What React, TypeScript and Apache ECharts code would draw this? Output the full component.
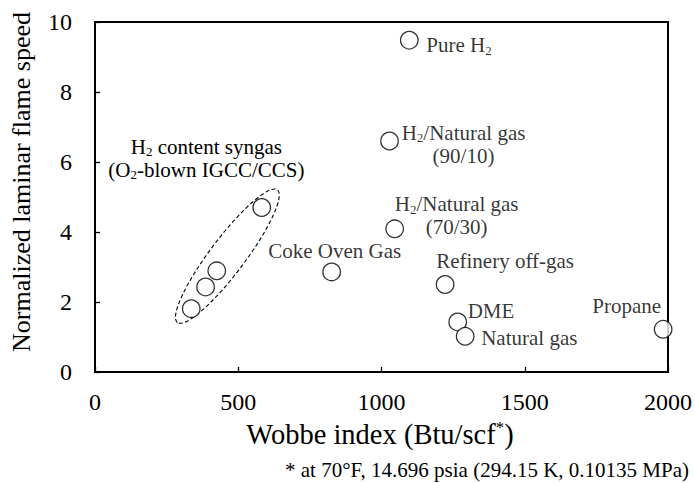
import React, { useEffect, useRef } from "react";
import * as echarts from "echarts";

// Fuel gases: Wobbe index (Btu/scf) vs. normalized laminar flame speed
const gasNames = [
  "Pure H2",
  "H2/Natural gas (90/10)",
  "H2/Natural gas (70/30)",
  "Coke Oven Gas",
  "Refinery off-gas",
  "DME",
  "Natural gas",
  "Propane",
];
const gasWobbe = [1097, 1028, 1046, 826, 1222, 1266, 1292, 1983];
const gasFlameSpeed = [9.48, 6.6, 4.09, 2.86, 2.5, 1.43, 1.02, 1.22];

// H2-content syngas cases (O2-blown IGCC/CCS)
const syngasWobbe = [336, 386, 425, 582];
const syngasFlameSpeed = [1.81, 2.43, 2.89, 4.7];
// centre of the dashed envelope drawn round the syngas cases
const syngasEnvelopeCentre = [462, 3.31];

const xTicks = { min: 0, max: 2000, interval: 500 };
const yTicks = { min: 0, max: 10, interval: 2 };

// rich-text labels (t = normal, s = subscript)
const gasLabels = [
  "{t|Pure H}{s|2}",
  "{t|H}{s|2}{t|/Natural gas}\n{t|(90/10)}",
  "{t|H}{s|2}{t|/Natural gas}\n{t|(70/30)}",
  "{t|Coke Oven Gas}",
  "{t|Refinery off-gas}",
  "{t|DME}",
  "{t|Natural gas}",
  "{t|Propane}",
];
const syngasLabel = "{t|H}{s|2}{t| content syngas}\n{t|(O}{s|2}{t|-blown IGCC/CCS)}";

// label placement relative to each marker (pixels)
const labelPlacement = [
  { dx: 17, dy: 5, align: "left" },
  { dx: 74, dy: 3, align: "center" },
  { dx: 62, dy: -13, align: "center" },
  { dx: 3, dy: -21, align: "center" },
  { dx: 60, dy: -24, align: "center" },
  { dx: 10, dy: -11, align: "left" },
  { dx: 16, dy: 2, align: "left" },
  { dx: -2, dy: -23, align: "right" },
];

const FONT = "Liberation Serif";

const richStyles = {
  t: { fontSize: 21, fontFamily: FONT, color: "#000", lineHeight: 23 },
  s: {
    fontSize: 13,
    fontFamily: FONT,
    color: "#000",
    lineHeight: 13,
    verticalAlign: "bottom",
  },
};

export default function App() {
  const ref = useRef<HTMLDivElement>(null);

  useEffect(() => {
    if (!ref.current) return;
    const chart = echarts.init(ref.current, undefined, { renderer: "svg" });

    const gasData = gasNames.map((name, i) => {
      const p = labelPlacement[i];
      return {
        name,
        value: [gasWobbe[i], gasFlameSpeed[i]],
        label: {
          show: true,
          position: "inside",
          formatter: gasLabels[i],
          offset: [p.dx, p.dy],
          align: p.align,
          verticalAlign: "middle",
          rich: richStyles,
        },
      };
    });

    const syngasData = syngasWobbe.map((w, i) => [w, syngasFlameSpeed[i]]);

    const markerStyle = {
      color: "#fff",
      borderColor: "#000",
      borderWidth: 1.3,
    };

    chart.setOption({
      animation: false,
      backgroundColor: "#fff",
      textStyle: { fontFamily: FONT },
      grid: {
        left: 95,
        right: 26,
        top: 22,
        bottom: 111,
        show: true,
        borderColor: "#000",
        borderWidth: 2,
        backgroundColor: "transparent",
      },
      xAxis: {
        type: "value",
        min: xTicks.min,
        max: xTicks.max,
        interval: xTicks.interval,
        splitLine: { show: false },
        axisLine: { show: true, lineStyle: { color: "#000", width: 2 } },
        axisTick: { show: true, inside: true, length: 5, lineStyle: { color: "#000", width: 1.3 } },
        axisLabel: {
          color: "#000",
          fontFamily: FONT,
          fontSize: 24,
          margin: 18,
          formatter: (v: number) => String(v),
        },
      },
      yAxis: {
        type: "value",
        min: yTicks.min,
        max: yTicks.max,
        interval: yTicks.interval,
        splitLine: { show: false },
        axisLine: { show: true, lineStyle: { color: "#000", width: 2 } },
        axisTick: { show: true, inside: true, length: 5, lineStyle: { color: "#000", width: 1.3 } },
        axisLabel: {
          color: "#000",
          fontFamily: FONT,
          fontSize: 24,
          margin: 23,
          formatter: (v: number) => String(v),
        },
      },
      graphic: [
        {
          type: "text",
          x: 21,
          y: 182,
          rotation: Math.PI / 2,
          style: {
            text: "Normalized laminar flame speed",
            fontFamily: FONT,
            fontSize: 26,
            fill: "#000",
            align: "center",
            verticalAlign: "middle",
          },
        },
        {
          type: "text",
          x: 380,
          y: 434,
          style: {
            text: "{t|Wobbe index (Btu/scf}{sup|*}{t|)}",
            rich: {
              t: { fontSize: 28.5, fontFamily: FONT, color: "#000", lineHeight: 31 },
              sup: {
                fontSize: 17,
                fontFamily: FONT,
                color: "#000",
                lineHeight: 17,
                verticalAlign: "top",
              },
            },
            align: "center",
            verticalAlign: "middle",
          },
        },
        {
          type: "text",
          x: 689,
          y: 470,
          style: {
            text: "* at 70°F, 14.696 psia (294.15 K, 0.10135 MPa)",
            fontFamily: FONT,
            fontSize: 21,
            fill: "#000",
            align: "right",
            verticalAlign: "middle",
          },
        },
      ],
      series: [
        {
          type: "custom",
          name: "syngas envelope",
          coordinateSystem: "cartesian2d",
          data: [syngasEnvelopeCentre],
          clip: false,
          z: 1,
          renderItem: (_params: any, api: any) => {
            const c = api.coord([api.value(0), api.value(1)]);
            return {
              type: "group",
              children: [
                {
                  type: "ellipse",
                  x: c[0],
                  y: c[1],
                  rotation: (53 * Math.PI) / 180,
                  shape: { cx: 0, cy: 0, rx: 83, ry: 17.5 },
                  style: {
                    fill: "none",
                    stroke: "#000",
                    lineWidth: 1.1,
                    lineDash: [4, 2.5],
                  },
                },
                {
                  type: "text",
                  x: c[0] - 21,
                  y: c[1] - 98,
                  style: {
                    text: syngasLabel,
                    rich: richStyles,
                    align: "center",
                    verticalAlign: "middle",
                  },
                },
              ],
            };
          },
        },
        {
          type: "scatter",
          name: "H2 content syngas",
          data: syngasData,
          symbol: "circle",
          symbolSize: 17.5,
          clip: false,
          z: 3,
          itemStyle: markerStyle,
        },
        {
          type: "scatter",
          name: "Fuel gases",
          data: gasData,
          symbol: "circle",
          symbolSize: 17.5,
          clip: false,
          z: 3,
          itemStyle: markerStyle,
        },
      ],
    });

    return () => chart.dispose();
  }, []);

  return (
    <div
      ref={ref}
      style={{ position: "absolute", left: 0, top: 0, width: 695, height: 483 }}
    />
  );
}
